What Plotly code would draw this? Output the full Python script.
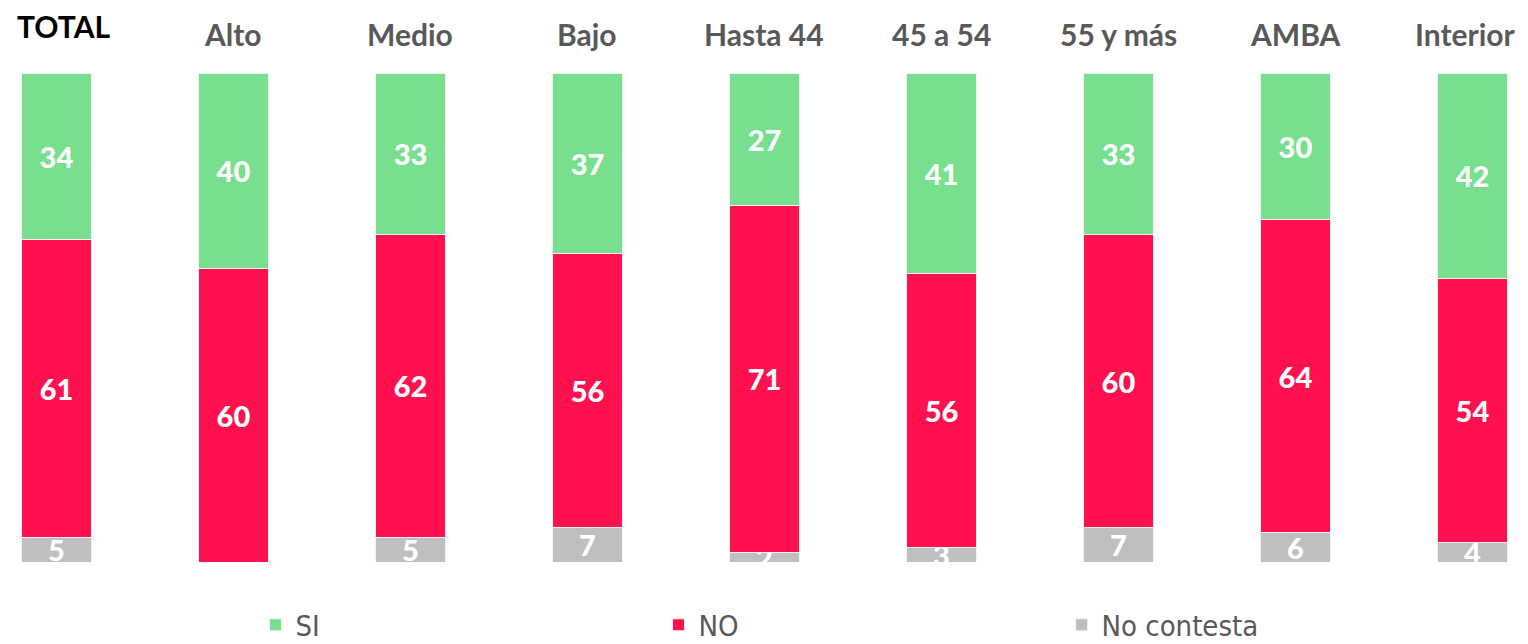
import plotly.graph_objects as go

categorias = ["TOTAL", "Alto", "Medio", "Bajo", "Hasta 44", "45 a 54", "55 y más", "AMBA", "Interior"]
si = [34, 40, 33, 37, 27, 41, 33, 30, 42]
no = [61, 60, 62, 56, 71, 56, 60, 64, 54]
no_contesta = [5, 0, 5, 7, 2, 3, 7, 6, 4]

VERDE = "#78DF8F"
ROJO = "#FF114F"
GRIS = "#BFBFBF"

fig = go.Figure()

def barra(nombre, valores, color):
    return go.Bar(
        name=nombre,
        x=categorias,
        y=valores,
        width=0.4,
        marker=dict(color=color, line=dict(color="#F2F2F2", width=1)),
        text=[str(v) if v > 0 else "" for v in valores],
        textposition="inside",
        insidetextanchor="middle",
        constraintext="none",
        textangle=0,
        textfont=dict(family="Lato", size=29, color="white", weight=900),
        hoverinfo="none",
    )

# orden de apilado: no contesta abajo, NO en el medio, SI arriba
fig.add_trace(barra("No contesta", no_contesta, GRIS))
fig.add_trace(barra("NO", no, ROJO))
fig.add_trace(barra("SI", si, VERDE))

# titulos de cada grupo arriba de las barras
for c in categorias:
    if c == "TOTAL":
        fig.add_annotation(x=c, y=1.097, xref="x", yref="paper", text="<b>TOTAL</b>",
                           showarrow=False, xshift=7, yanchor="middle", borderpad=0,
                           font=dict(family="Lato", size=30, color="black", weight=900))
    else:
        fig.add_annotation(x=c, y=1.08, xref="x", yref="paper", text="<b>" + c + "</b>",
                           showarrow=False, yanchor="middle",
                           xshift=-7 if c == "Interior" else 0,
                           font=dict(family="Lato", size=30, color="#595959"))

fig.update_layout(
    width=1528,
    height=644,
    barmode="stack",
    plot_bgcolor="white",
    paper_bgcolor="white",
    margin=dict(l=0, r=0, t=65, b=90),
    xaxis=dict(range=[-0.274, 8.359], showticklabels=False, showgrid=False, zeroline=False,
               showline=False),
    yaxis=dict(range=[0, 100], visible=False),
    legend=dict(
        orientation="h",
        traceorder="reversed",
        xref="container", yref="container",
        x=0.162, y=0.042, xanchor="left", yanchor="middle",
        entrywidth=358, entrywidthmode="pixels",
        font=dict(family="DejaVu Sans Condensed", size=29, color="#595959"),
    ),
    showlegend=True,
)

fig.write_html("out.html")
